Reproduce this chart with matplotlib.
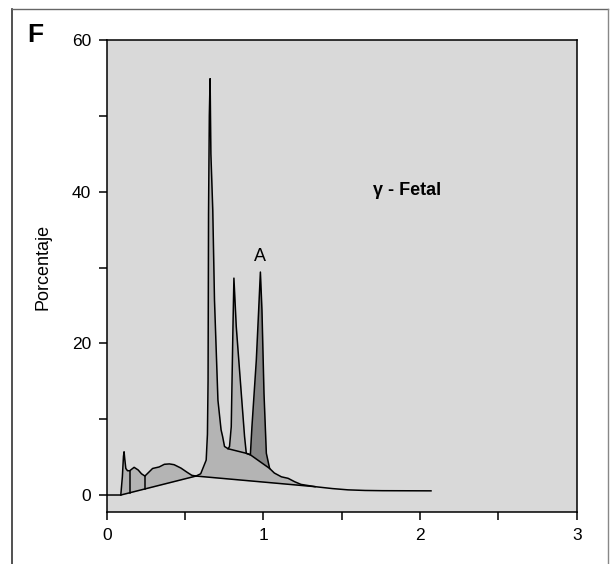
import numpy as np
import matplotlib
matplotlib.use("Agg")
import matplotlib.pyplot as plt
from matplotlib.lines import Line2D

plt.rcParams['font.family'] = ['Liberation Sans', 'DejaVu Sans']

# baseline under the whole trace
base_x = [0.0, 0.09, 0.57, 1.33, 1.44, 1.54, 1.65, 1.76, 2.07]
base_y = [0.0, 0.0, 2.5, 1.1, 0.85, 0.68, 0.6, 0.57, 0.55]

# small early fractions (left group)
left_x = [0.09, 0.10, 0.107, 0.111, 0.115, 0.122, 0.133, 0.147, 0.175, 0.201,
          0.222, 0.244, 0.293, 0.335, 0.368, 0.40, 0.43, 0.474, 0.513, 0.543, 0.57]
left_y = [0.0, 2.4, 5.1, 5.7, 4.8, 3.5, 3.2, 3.2, 3.65, 3.3,
          2.8, 2.5, 3.5, 3.7, 4.05, 4.1, 4.0, 3.55, 3.0, 2.6, 2.5]
left_cuts = [0.147, 0.244]

# main peak (gamma fetal)
p1_x = [0.57, 0.60, 0.635, 0.643, 0.647, 0.650, 0.655, 0.66, 0.665, 0.677,
        0.688, 0.71, 0.73, 0.74, 0.752, 0.775]
p1_y = [2.5, 2.8, 4.6, 8.0, 15.0, 37.0, 50.0, 54.9, 45.0, 37.6,
        25.7, 12.5, 8.6, 7.7, 6.4, 6.1]

# second peak
p2_x = [0.784, 0.795, 0.806, 0.812, 0.827, 0.859, 0.88, 0.891]
p2_y = [6.4, 9.0, 22.2, 28.6, 22.2, 13.4, 7.7, 5.5]

# peak A
pa_x = [0.917, 0.927, 0.955, 0.97, 0.981, 0.991, 1.004, 1.019, 1.04]
pa_y = [5.3, 9.0, 17.8, 24.4, 29.4, 24.4, 13.4, 5.5, 3.5]

# tail after A
tail_x = [1.07, 1.115, 1.158, 1.2, 1.24, 1.33]
tail_y = [2.9, 2.4, 2.2, 1.75, 1.4, 1.1]

# skim line under peaks 2 and A
skim_x = [0.775, 0.891, 0.917, 1.04]
skim_y = [6.1, 5.5, 5.3, 3.5]

bg = '#d9d9d9'
light = '#b4b4b4'
dark = '#868686'

fig = plt.figure(figsize=(6.15, 5.64), dpi=100)
ax = fig.add_axes([106.7 / 615, 1 - 512 / 564, 470 / 615, 472 / 564])
ax.set_facecolor(bg)

env_x = np.array(p1_x + p2_x + pa_x + tail_x)
env_y = np.array(p1_y + p2_y + pa_y + tail_y)

lx = np.array(left_x)
ax.fill_between(lx, np.interp(lx, base_x, base_y), left_y, color=light, lw=0)
ax.fill_between(env_x, np.interp(env_x, base_x, base_y), env_y, color=light, lw=0)
ax.fill(pa_x, pa_y, color=dark, lw=0)

ax.plot(base_x, base_y, color='black', lw=1.1)
ax.plot(left_x, left_y, color='black', lw=1.1)
ax.plot(env_x, env_y, color='black', lw=1.1)
ax.plot(skim_x, skim_y, color='black', lw=1.1)
for c in left_cuts:
    ax.plot([c, c], [np.interp(c, base_x, base_y), np.interp(c, left_x, left_y)],
            color='black', lw=1.1)

ax.text(0.98, 31.4, 'A', fontsize=13, ha='center', va='center')
ax.text(1.92, 40.2, 'γ - Fetal', fontsize=13, fontweight='bold', ha='center', va='center')

ax.set_xlim(0, 3)
ax.set_ylim(-2.24, 60)
ax.set_xticks([0, 1, 2, 3])
ax.set_xticks([0.5, 1.5, 2.5], minor=True)
ax.set_yticks([0, 20, 40, 60])
ax.set_yticks([10, 30, 50], minor=True)
ax.tick_params(which='both', direction='out', length=5.8, width=1.1, labelsize=12.5)
ax.tick_params(axis='x', pad=6)
ax.tick_params(axis='y', pad=5.5)
for s in ax.spines.values():
    s.set_linewidth(1.1)

fig.text(43 / 615, 1 - 267 / 564, 'Porcentaje', rotation=90, fontsize=13,
         ha='center', va='center')
fig.text(35 / 615, 1 - 35 / 564, 'F', fontsize=19, fontweight='bold',
         ha='center', va='center')

# outer frame (bottom edge falls outside the picture)
L, R, T = 11.7 / 615, 607.7 / 615, 1 - 9.3 / 564
fig.add_artist(Line2D([L, L], [0, T], transform=fig.transFigure, color='#333333', lw=1.2))
fig.add_artist(Line2D([L, R], [T, T], transform=fig.transFigure, color='#666666', lw=1))
fig.add_artist(Line2D([R, R], [0, T], transform=fig.transFigure, color='#888888', lw=1))

fig.savefig('out.png', dpi=100)
